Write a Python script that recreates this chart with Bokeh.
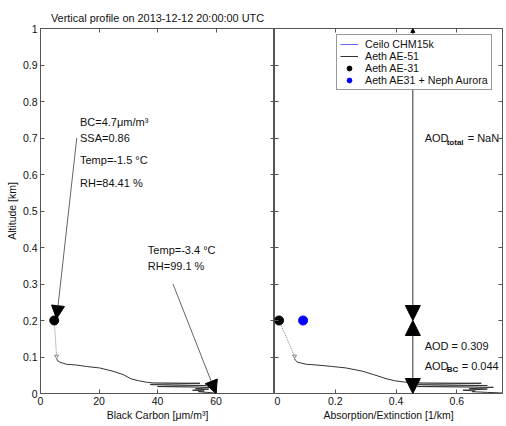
from bokeh.plotting import figure
from bokeh.layouts import row
from bokeh.models import Range1d, LinearAxis, FixedTicker, Arrow, NormalHead, Legend, LegendItem
from bokeh.core.properties import value
from bokeh.embed import file_html
from bokeh.resources import INLINE

FONT = "Liberation Sans"
NAN = float("nan")

# ---------------- data ----------------
title_text = "Vertical profile on 2013-12-12 20:00:00 UTC"

# Aeth AE-51 profile (black carbon, ug/m3) vs altitude (km)
ae51_alt = [0.095, 0.090, 0.086, 0.080, 0.078, 0.074, 0.070, 0.061, 0.052, 0.040, 0.035,
            0.031, 0.029, 0.028, 0.025, 0.024, 0.022, 0.019, 0.017, 0.013, 0.012, 0.009,
            0.007, 0.005, 0.003, 0.001]
ae51_bc = [5.6, 5.8, 6.6, 8.9, 12.3, 15.7, 20.2, 24.8, 28.2, 31.0, 33.5,
           36.2, 38.4, 54.5, 37.5, 38.0, 56.5, 40.0, 58.0, 53.0, 57.5, 52.0,
           56.0, 54.0, 57.0, 60.0]
# Aeth AE-51 absorption (1/km)
ae51_abs = [0.066, 0.070, 0.075, 0.105, 0.140, 0.190, 0.235, 0.290, 0.325, 0.370, 0.395,
            0.430, 0.450, 0.680, 0.440, 0.450, 0.700, 0.470, 0.720, 0.640, 0.700, 0.620,
            0.660, 0.650, 0.700, 0.760]

# Ceilometer extinction: not available (NaN)
ceilo_alt = [0.2, 1.0]
ceilo_ext = [NAN, NAN]

# Aeth AE-31 (ground station at 0.2 km)
ae31_alt = [0.2]
ae31_bc = [4.7]
ae31_abs = [0.015]
# Aeth AE31 + Neph Aurora extinction
neph_alt = [0.2]
neph_ext = [0.094]

# dotted link from station to profile top
link_alt = [0.2, 0.102]
link_bc = [4.7, 5.5]
link_abs = [0.015, 0.066]

y_ticks = [0, 0.1, 0.2, 0.3, 0.4, 0.5, 0.6, 0.7, 0.8, 0.9, 1.0]
y_tick_labels = ["0", "0.1", "0.2", "0.3", "0.4", "0.5", "0.6", "0.7", "0.8", "0.9", "1"]
bc_ticks = [0, 20, 40, 60, 80]
bc_tick_labels = ["0", "20", "40", "60", ""]
abs_ticks = [0, 0.2, 0.4, 0.6]
abs_tick_labels = ["0", "0.2", "0.4", "0.6"]

# annotation texts
left_notes = ["BC=4.7\u03bcm/m\u00b3", "SSA=0.86", "Temp=-1.5 \u00b0C", "RH=84.41 %"]
left_notes_y = [0.745, 0.700, 0.640, 0.578]
left_notes_x = [13.5, 13.5, 13.5, 13.5]
low_notes = ["Temp=-3.4 \u00b0C", "RH=99.1 %"]
low_notes_y = [0.394, 0.348]
low_notes_x = [36.7, 36.7]

# arrows (start x, start y, end x, end y)
arrow_top = (12.4, 0.70, 5.5, 0.205)
arrow_low = (45.3, 0.30, 60.0, 0.0)
aod_x = 0.455
aod_top, aod_mid, aod_bot = 1.0, 0.2, 0.0

AXC = "#555555"
TXT = "#111111"
FS = "11px"


def style(p, xticks, xlabels):
    p.xgrid.visible = False
    p.ygrid.visible = False
    p.outline_line_color = AXC
    p.background_fill_color = "white"
    p.border_fill_color = "white"
    for ax in p.axis:
        ax.major_tick_in = 4
        ax.major_tick_out = 0
        ax.minor_tick_line_color = None
        ax.axis_line_color = None
        ax.major_tick_line_color = AXC
        ax.major_label_text_font = FONT
        ax.major_label_text_font_size = "10.5px"
        ax.major_label_text_color = TXT
        ax.axis_label_text_font = FONT
        ax.axis_label_text_font_size = "10.5px"
        ax.axis_label_text_font_style = "normal"
        ax.axis_label_text_color = TXT
    p.xaxis[0].ticker = FixedTicker(ticks=xticks)
    p.xaxis[0].major_label_overrides = {t: l for t, l in zip(xticks, xlabels)}
    p.xaxis[0].major_label_standoff = 3
    p.xaxis[0].axis_label_standoff = 1


def hide_labels(ax):
    ax.major_label_text_font_size = "0px"
    ax.major_label_text_color = None
    ax.major_label_standoff = 0


def add_blank_axes(p, xticks, sides):
    for side in sides:
        if side in ("above", "below"):
            ax = LinearAxis(ticker=FixedTicker(ticks=xticks))
        else:
            ax = LinearAxis(ticker=FixedTicker(ticks=y_ticks))
        hide_labels(ax)
        ax.major_tick_in = 4
        ax.major_tick_out = 0
        ax.minor_tick_line_color = None
        ax.axis_line_color = None
        ax.major_tick_line_color = AXC
        p.add_layout(ax, side)


def txt(p, x, y, s, size=FS, **kw):
    p.text(x, y, text=s, text_font=value(FONT), text_font_size=size,
           text_baseline="middle", text_color=TXT, **kw)


# ---------------- left figure ----------------
p1 = figure(frame_width=234, frame_height=365, output_backend="svg", toolbar_location=None,
            x_range=Range1d(0, 80), y_range=Range1d(0, 1),
            min_border_left=40, min_border_right=0, min_border_top=28, min_border_bottom=33,
            x_axis_label="Black Carbon [\u03bcm/m\u00b3]", y_axis_label="Altitude [km]",
            title=title_text)
p1.title.align = "center"
p1.title.text_font = FONT
p1.title.text_font_size = "10.9px"
p1.title.text_font_style = "normal"
p1.title.text_color = TXT
p1.title.offset = 0
style(p1, bc_ticks, bc_tick_labels)
p1.yaxis[0].ticker = FixedTicker(ticks=y_ticks)
p1.yaxis[0].major_label_overrides = {t: l for t, l in zip(y_ticks, y_tick_labels)}
p1.yaxis[0].major_label_standoff = 3
p1.yaxis[0].axis_label_standoff = 2
add_blank_axes(p1, bc_ticks, ["above", "right"])

p1.line(link_bc, link_alt, line_color="#888888", line_dash="1 1", line_width=1)
p1.scatter([link_bc[1]], [link_alt[1]], marker="inverted_triangle", size=4,
           fill_color=None, line_color="#888888")
p1.line(ae51_bc, ae51_alt, line_color="#333333", line_width=1)
p1.scatter(ae31_bc, ae31_alt, size=9, color="black")

p1.add_layout(Arrow(end=NormalHead(size=13, fill_color="black", line_color="black"),
                    x_start=arrow_top[0], y_start=arrow_top[1], x_end=arrow_top[2], y_end=arrow_top[3],
                    line_color="#666666", line_width=1))
p1.add_layout(Arrow(end=NormalHead(size=13, fill_color="black", line_color="black"),
                    x_start=arrow_low[0], y_start=arrow_low[1], x_end=arrow_low[2], y_end=arrow_low[3],
                    line_color="#666666", line_width=1))

txt(p1, left_notes_x, left_notes_y, left_notes)
txt(p1, low_notes_x, low_notes_y, low_notes)

# ---------------- right figure ----------------
p2 = figure(frame_width=228, frame_height=365, output_backend="svg", toolbar_location=None,
            x_range=Range1d(0, 0.75), y_range=Range1d(0, 1),
            min_border_left=0, min_border_right=4, min_border_top=28, min_border_bottom=33,
            x_axis_label="Absorption/Extinction [1/km]")
style(p2, abs_ticks, abs_tick_labels)
p2.yaxis[0].ticker = FixedTicker(ticks=y_ticks)
hide_labels(p2.yaxis[0])
add_blank_axes(p2, abs_ticks, ["above", "right"])

r_ceilo = p2.line(ceilo_ext, ceilo_alt, line_color="#6666ff", line_width=1)
p2.line(link_abs, link_alt, line_color="#888888", line_dash="1 1", line_width=1)
p2.scatter([link_abs[1]], [link_alt[1]], marker="inverted_triangle", size=4,
           fill_color=None, line_color="#888888")
r_ae51 = p2.line(ae51_abs, ae51_alt, line_color="#333333", line_width=1)
r_ae31 = p2.scatter(ae31_abs, ae31_alt, size=9, color="black")
r_neph = p2.scatter(neph_ext, neph_alt, size=9, color="#0000ff")

head_big = dict(size=15, fill_color="black", line_color="black")
p2.add_layout(Arrow(start=NormalHead(size=4, fill_color="black", line_color="black"),
                    end=NormalHead(**head_big),
                    x_start=aod_x, y_start=aod_top, x_end=aod_x, y_end=aod_mid,
                    line_color="#333333", line_width=1))
p2.add_layout(Arrow(start=NormalHead(**head_big), end=NormalHead(**head_big),
                    x_start=aod_x, y_start=aod_mid, x_end=aod_x, y_end=aod_bot,
                    line_color="#333333", line_width=1))

tx = [0.494]
txt(p2, tx, [0.70], ["AOD"])
txt(p2, tx, [0.70], ["total"], size="8px", text_font_style="bold", x_offset=22, y_offset=4)
txt(p2, tx, [0.70], ["=  NaN"], x_offset=43)
txt(p2, tx, [0.129], ["AOD = 0.309"])
txt(p2, tx, [0.076], ["AOD"])
txt(p2, tx, [0.076], ["BC"], size="8px", text_font_style="bold", x_offset=22, y_offset=4)
txt(p2, tx, [0.076], ["= 0.044"], x_offset=37)

legend = Legend(items=[LegendItem(label="Ceilo CHM15k", renderers=[r_ceilo]),
                       LegendItem(label="Aeth AE-51", renderers=[r_ae51]),
                       LegendItem(label="Aeth AE-31", renderers=[r_ae31]),
                       LegendItem(label="Aeth AE31 + Neph Aurora", renderers=[r_neph])],
                location=(62, 303), orientation="vertical")
legend.label_text_font = FONT
legend.label_text_font_size = "10.7px"
legend.label_text_color = TXT
legend.label_height = 12
legend.glyph_height = 12
legend.glyph_width = 18
legend.label_standoff = 7
legend.spacing = 0
legend.padding = 3
legend.margin = 0
legend.border_line_color = "#333333"
legend.border_line_width = 1
legend.background_fill_alpha = 1.0
p2.add_layout(legend, "center")

layout = row(p1, p2, spacing=0)
open("out.html", "w").write(file_html(layout, INLINE))
